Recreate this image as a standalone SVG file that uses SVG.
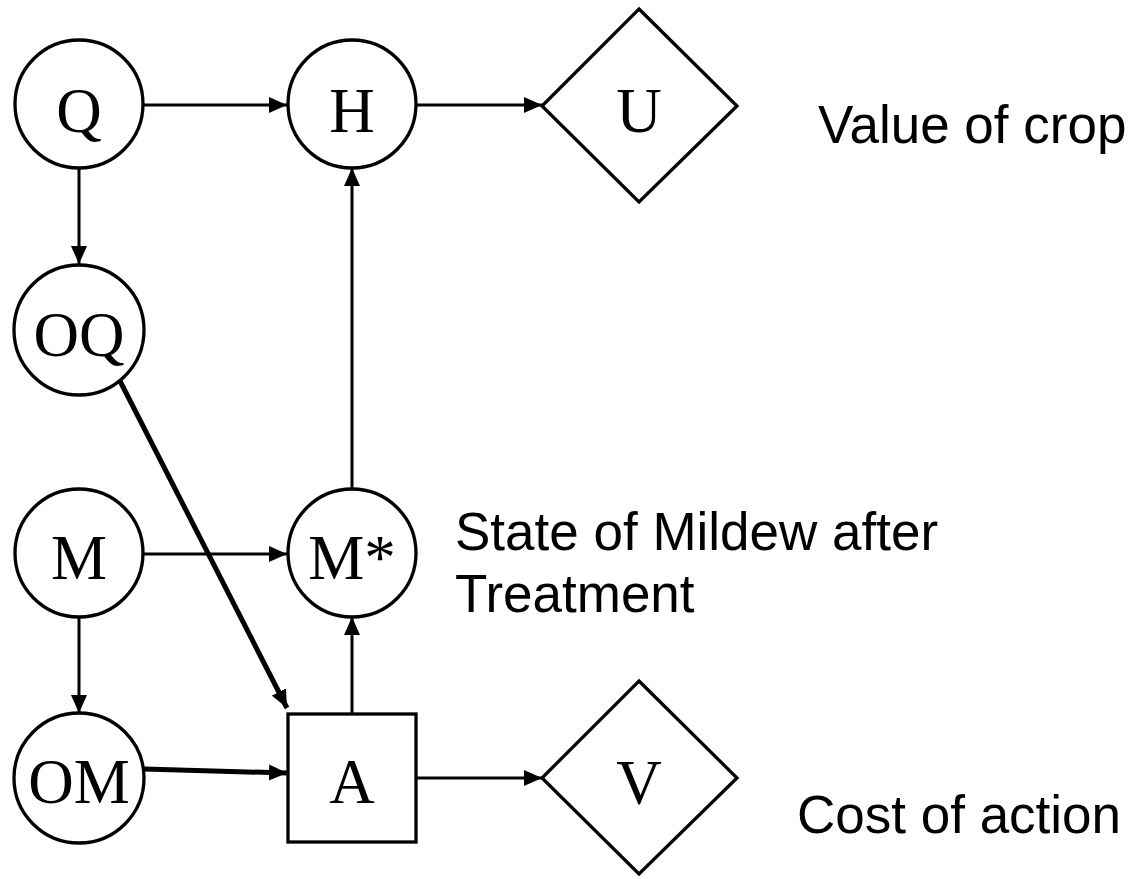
<svg xmlns="http://www.w3.org/2000/svg" width="1130" height="879" viewBox="0 0 1130 879">
  <style>
    .node { fill: #fff; stroke: #000; stroke-width: 3.3; }
    .lbl { font-family: "Liberation Serif", "Times New Roman", serif; font-size: 63px; text-anchor: middle; fill: #000; }
    .note { font-family: "Liberation Sans", Arial, sans-serif; font-size: 53px; fill: #000; }
    .edge { stroke: #000; stroke-width: 3; fill: none; marker-end: url(#arrow); }
    .thick { stroke-width: 5; }
  </style>
  <defs>
    <marker id="arrow" markerUnits="userSpaceOnUse" markerWidth="19" markerHeight="16" refX="18" refY="8" orient="auto">
      <path d="M0,0 L18,8 L0,16 z" fill="#000"/>
    </marker>
  </defs>
  <rect width="1130" height="879" fill="#fff"/>

  <g id="connectors">
    <line class="edge" x1="144" y1="105" x2="287" y2="105"/>
    <line class="edge" x1="416" y1="105" x2="542" y2="105"/>
    <line class="edge" x1="79" y1="168" x2="79" y2="264"/>
    <line class="edge" x1="352" y1="489" x2="352" y2="168"/>
    <line class="edge" x1="144" y1="554" x2="287" y2="554"/>
    <line class="edge" x1="79" y1="617" x2="79" y2="713"/>
    <line class="edge" x1="352" y1="713" x2="352" y2="617"/>
    <line class="edge thick" x1="120" y1="381" x2="287" y2="708"/>
    <line class="edge thick" x1="144" y1="769" x2="287" y2="773"/>
    <line class="edge" x1="416" y1="778" x2="542" y2="778"/>
  </g>

  <g id="Q"><circle class="node" cx="79" cy="104" r="64"/><text class="lbl" x="79" y="132">Q</text></g>
  <g id="H"><circle class="node" cx="352" cy="104" r="64"/><text class="lbl" x="352" y="132">H</text></g>
  <g id="U"><polygon class="node" points="639,9 737,106 639,202 542,106"/><text class="lbl" x="639" y="132">U</text></g>
  <g id="OQ"><circle class="node" cx="79" cy="330" r="65"/><text class="lbl" x="79" y="356">OQ</text></g>
  <g id="M"><circle class="node" cx="79" cy="553" r="64"/><text class="lbl" x="79" y="579">M</text></g>
  <g id="Mstar"><circle class="node" cx="352" cy="553" r="64"/><text class="lbl" x="352" y="579">M*</text></g>
  <g id="OM"><circle class="node" cx="79" cy="778" r="65"/><text class="lbl" x="79" y="803">OM</text></g>
  <g id="A"><rect class="node" x="288" y="714" width="128" height="128"/><text class="lbl" x="352" y="803">A</text></g>
  <g id="V"><polygon class="node" points="639,681 737,778 639,874 542,778"/><text class="lbl" x="639" y="804">V</text></g>

  <g id="notes">
    <text class="note" x="818" y="143">Value of crop</text>
    <text class="note" x="455" y="550">State of Mildew after</text>
    <text class="note" x="455" y="612">Treatment</text>
    <text class="note" x="797" y="833">Cost of action</text>
  </g>
</svg>
